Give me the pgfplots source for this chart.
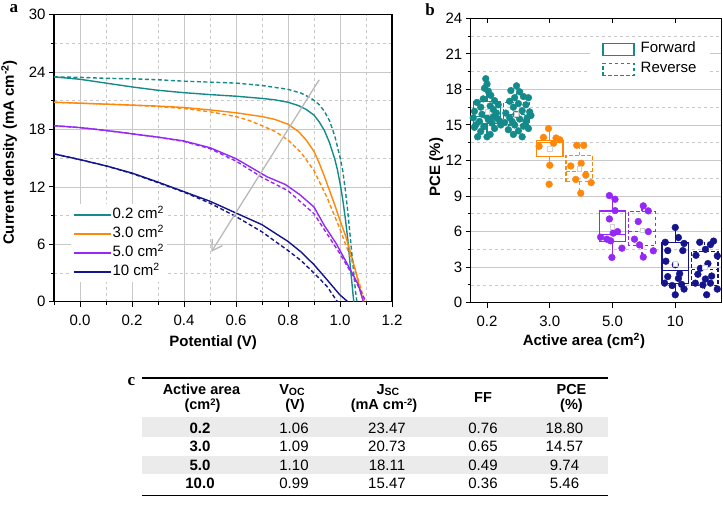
\documentclass[border=0pt]{standalone}
\usepackage{fontspec}
\setmainfont{Liberation Sans}
\newfontfamily\panelfont{Liberation Serif}
\usepackage{pgfplots}
\pgfplotsset{compat=1.18}
\usepgfplotslibrary{statistics}
\usetikzlibrary{arrows.meta}

\definecolor{tealc}{RGB}{20,138,138}
\definecolor{orangec}{RGB}{255,135,10}
\definecolor{purplec}{RGB}{150,40,245}
\definecolor{navyc}{RGB}{20,20,140}
\definecolor{gridc}{RGB}{200,200,200}
\definecolor{rowc}{RGB}{235,235,235}

\newcommand\fs{\fontsize{15bp}{18bp}\selectfont}
\newcommand\hs{\fontsize{14.5bp}{16bp}\selectfont}
\newcommand\lowsub[1]{\raisebox{-1.2bp}{\fontsize{10.5bp}{11bp}\selectfont #1}}
\newcommand\upsup[1]{\raisebox{4.5bp}{\fontsize{9.5bp}{10bp}\selectfont #1}}

\pgfplotsset{
  every axis/.append style={font=\fs},
  /pgf/number format/assume math mode=true,
}

\begin{document}
\begin{tikzpicture}

% ---------------- (a) J-V curves ----------------
\begin{axis}[
  at={(54bp,-301.7bp)}, anchor=south west,
  scale only axis, width=338bp, height=287bp,
  xmin=-0.1, xmax=1.2, ymin=0, ymax=30,
  xtick={0,0.2,0.4,0.6,0.8,1.0,1.2},
  xticklabels={0.0,0.2,0.4,0.6,0.8,1.0,1.2},
  minor xtick={-0.1,0.1,0.3,0.5,0.7,0.9,1.1},
  ytick={0,6,12,18,24,30},
  minor ytick={3,9,15,21,27},
  grid=both,
  major grid style={gridc, line width=0.8bp},
  minor grid style={gridc, dashed, line width=0.8bp},
  tick align=outside, tick pos=left,
  major tick length=5bp, minor tick length=3bp,
  tick style={black, line width=1bp},
  axis line style={line width=1.5bp},
  xticklabel shift=5bp,
  xlabel={\textbf{Potential (V)}},
  ylabel={\textbf{Current density (mA cm\textsuperscript{-2})}},
  xlabel style={at={(axis description cs:0.471,-0.157)}, anchor=base},
  ylabel style={at={(axis description cs:-0.119,0.52)}, anchor=base},
  legend cell align=left,
  legend style={at={(axis description cs:0.05,0.34)}, anchor=north west,
    fill=white, draw=none, inner sep=2bp,
    nodes={inner sep=1bp, text height=11bp, text depth=4bp},
    row sep=2bp,
    /tikz/every even column/.append style={column sep=4bp}},
  legend image code/.code={\draw[#1] (0bp,0bp) -- (37bp,0bp);},
]
% forward scans
\addplot[tealc, line width=1.4bp] coordinates {
 (-0.1,23.50) (0.0,23.25) (0.1,22.85) (0.2,22.45) (0.3,22.10) (0.4,21.85)
 (0.5,21.65) (0.6,21.48) (0.7,21.25) (0.75,21.10) (0.8,20.85) (0.84,20.50)
 (0.87,20.10) (0.9,19.50) (0.92,18.80) (0.94,17.90) (0.96,16.60) (0.98,14.90)
 (0.99,13.80) (1.0,12.40) (1.01,10.80) (1.02,8.80) (1.03,6.50) (1.04,3.60)
 (1.05,0.80) (1.053,0)};
\addlegendentry{0.2 cm\textsuperscript{2}}
\addplot[orangec, line width=1.4bp] coordinates {
 (-0.1,20.85) (0.0,20.75) (0.1,20.65) (0.2,20.55) (0.3,20.45) (0.4,20.30)
 (0.5,20.05) (0.6,19.75) (0.7,19.35) (0.75,19.05) (0.8,18.55) (0.84,17.80)
 (0.87,16.90) (0.9,15.70) (0.92,14.50) (0.94,13.10) (0.96,11.60) (0.98,10.10)
 (1.0,8.50) (1.02,7.00) (1.04,5.20) (1.06,3.20) (1.08,1.00) (1.09,0)};
\addlegendentry{3.0 cm\textsuperscript{2}}
\addplot[purplec, line width=1.4bp] coordinates {
 (-0.1,18.40) (0.0,18.20) (0.1,17.90) (0.2,17.55) (0.3,17.20) (0.4,16.80)
 (0.5,16.10) (0.6,14.95) (0.66,14.00) (0.72,13.05) (0.79,12.25) (0.845,11.20)
 (0.9,9.90) (0.94,7.95) (0.985,6.10) (1.026,4.05) (1.07,1.80) (1.09,0)};
\addlegendentry{5.0 cm\textsuperscript{2}}
\addplot[navyc, line width=1.4bp] coordinates {
 (-0.1,15.45) (0.0,14.85) (0.1,14.20) (0.2,13.45) (0.3,12.50) (0.4,11.50)
 (0.5,10.50) (0.6,9.27) (0.7,8.05) (0.8,6.30) (0.85,5.20) (0.9,3.87)
 (0.95,2.30) (1.0,0.70) (1.03,0)};
\addlegendentry{10 cm\textsuperscript{2}}
% reverse scans
\addplot[tealc, line width=1.4bp, dash pattern=on 4bp off 2.5bp, forget plot] coordinates {
 (-0.1,23.50) (0.0,23.45) (0.1,23.35) (0.2,23.30) (0.3,23.20) (0.4,23.05)
 (0.5,22.95) (0.6,22.85) (0.7,22.60) (0.8,22.20) (0.85,21.80) (0.88,21.40)
 (0.9,21.05) (0.92,20.60) (0.94,19.90) (0.96,18.90) (0.98,17.30) (1.0,15.10)
 (1.01,13.80) (1.02,11.80) (1.03,9.40) (1.04,6.60) (1.05,3.80) (1.06,1.00) (1.065,0)};
\addplot[orangec, line width=1.4bp, dash pattern=on 4bp off 2.5bp, forget plot] coordinates {
 (-0.1,20.85) (0.0,20.75) (0.2,20.55) (0.3,20.40) (0.4,20.20) (0.5,19.85)
 (0.6,19.35) (0.65,18.95) (0.7,18.40) (0.75,17.80) (0.8,16.90) (0.85,15.60)
 (0.9,13.70) (0.95,10.90) (1.0,7.60) (1.02,6.10) (1.04,4.70) (1.06,3.20)
 (1.08,1.40) (1.095,0)};
\addplot[purplec, line width=1.4bp, dash pattern=on 4bp off 2.5bp, forget plot] coordinates {
 (-0.1,18.40) (0.0,18.20) (0.1,17.90) (0.2,17.55) (0.3,17.20) (0.4,16.75)
 (0.5,16.00) (0.6,14.70) (0.7,13.00) (0.8,11.60) (0.9,9.20) (0.95,7.10)
 (1.0,5.00) (1.05,2.70) (1.1,0)};
\addplot[navyc, line width=1.4bp, dash pattern=on 4bp off 2.5bp, forget plot] coordinates {
 (-0.1,15.45) (0.0,14.85) (0.1,14.20) (0.2,13.40) (0.3,12.45) (0.4,11.45)
 (0.5,10.30) (0.6,8.90) (0.7,7.30) (0.8,5.35) (0.85,4.30) (0.9,3.00)
 (0.95,1.60) (0.99,0)};
% trend arrow with increasing area
\draw[gray!55, line width=1.3bp, -{Straight Barb[length=10bp, width=12bp]}]
  (axis cs:0.92,23.2) -- (axis cs:0.505,5.2);
\end{axis}

% ---------------- (b) PCE statistics ----------------
\begin{axis}[
  at={(470.7bp,-302.7bp)}, anchor=south west,
  scale only axis, width=251bp, height=284.4bp,
  xmin=-0.26, xmax=3.74, ymin=0, ymax=24,
  xtick={0,1,2,3}, xticklabels={0.2,3.0,5.0,10},
  ytick={0,3,6,9,12,15,18,21,24},
  minor ytick={1.5,4.5,7.5,10.5,13.5,16.5,19.5,22.5},
  ymajorgrids, yminorgrids,
  major grid style={gridc, line width=0.8bp},
  minor grid style={gridc, dashed, line width=0.8bp},
  tick align=outside, tick pos=left,
  major tick length=5bp, minor tick length=3bp,
  tick style={black, line width=1bp},
  axis line style={line width=1.5bp},
  xticklabel shift=5bp,
  xlabel={\textbf{Active area (cm\textsuperscript{2})}},
  ylabel={\textbf{PCE (\%)}},
  xlabel style={at={(axis description cs:0.451,-0.151)}, anchor=base},
  ylabel style={at={(axis description cs:-0.122,0.477)}, anchor=base},
  legend cell align=left,
  legend style={at={(axis description cs:0.476,0.928)}, anchor=north west,
    fill=white, draw=none, inner xsep=12bp, inner ysep=2bp,
    nodes={inner sep=1bp, text height=11bp, text depth=4bp},
    row sep=3bp,
    /tikz/every odd column/.append style={column sep=5bp}},
  boxplot/draw direction=y,
  boxplot/whisker extend=0,
  boxplot/box extend=0.42,
]
\addlegendimage{legend image code/.code={\draw[tealc, line width=1.3bp] (0bp,-6.2bp) rectangle (31bp,6.2bp);}}
\addlegendentry{Forward}
\addlegendimage{legend image code/.code={\draw[tealc, line width=1.3bp, dash pattern=on 3.5bp off 2.5bp] (0bp,-6.2bp) rectangle (31bp,6.2bp);}}
\addlegendentry{Reverse}

% boxes, forward (solid) and reverse (dashed)
\addplot[tealc, line width=1.3bp, forget plot, boxplot prepared={draw position=0,
  lower whisker=14.0, lower quartile=15.1, median=15.7, upper quartile=16.95, upper whisker=18.9}] coordinates {};
\addplot[tealc, line width=1.3bp, dash pattern=on 3.5bp off 2.5bp, forget plot, boxplot prepared={draw position=0.47,
  lower whisker=14.0, lower quartile=15.0, median=15.9, upper quartile=16.9, upper whisker=18.3}] coordinates {};
\addplot[orangec, line width=1.3bp, forget plot, boxplot prepared={draw position=1,
  lower whisker=11.6, lower quartile=12.35, median=13.5, upper quartile=13.7, upper whisker=14.7}] coordinates {};
\addplot[orangec, line width=1.3bp, dash pattern=on 3.5bp off 2.5bp, forget plot, boxplot prepared={draw position=1.47,
  lower whisker=9.2, lower quartile=10.2, median=11.05, upper quartile=12.45, upper whisker=13.3}] coordinates {};
\addplot[purplec, line width=1.3bp, forget plot, boxplot prepared={draw position=2,
  lower whisker=3.8, lower quartile=5.16, median=5.78, upper quartile=7.75, upper whisker=9.0}] coordinates {};
\addplot[purplec, line width=1.3bp, dash pattern=on 3.5bp off 2.5bp, forget plot, boxplot prepared={draw position=2.47,
  lower whisker=3.85, lower quartile=4.8, median=6.0, upper quartile=7.7, upper whisker=8.15}] coordinates {};
\addplot[navyc, line width=1.3bp, forget plot, boxplot prepared={draw position=3,
  lower whisker=0.67, lower quartile=1.65, median=2.7, upper quartile=5.08, upper whisker=6.35}] coordinates {};
\addplot[navyc, line width=1.3bp, dash pattern=on 3.5bp off 2.5bp, forget plot, boxplot prepared={draw position=3.47,
  lower whisker=0.67, lower quartile=1.45, median=2.8, upper quartile=4.35, upper whisker=5.2}] coordinates {};

% individual devices
\addplot[only marks, mark=*, mark size=3.4bp, tealc, forget plot] coordinates {
 (-0.02,18.9) (0.0,18.45) (-0.04,18.1) (0.02,17.85) (0.06,17.5) (-0.06,17.2)
 (0.12,17.05) (0.18,16.7) (-0.16,16.9) (-0.1,16.5) (0.05,16.6) (0.15,16.0)
 (-0.2,16.15) (-0.08,15.9) (0.1,15.7) (0.2,15.35) (-0.22,15.6) (-0.12,15.3)
 (0.02,15.45) (0.08,15.15) (-0.18,15.0) (0.22,15.0) (-0.05,14.85) (0.12,14.7)
 (-0.1,14.45) (0.05,14.2) (-0.15,14.0) (0.0,14.0) (0.1,16.3) (-0.02,15.8)
 (0.16,15.55) (-0.2,14.8)};
\addplot[only marks, mark=*, mark size=3.4bp, tealc, forget plot] coordinates {
 (0.47,18.3) (0.38,17.9) (0.52,17.8) (0.58,17.4) (0.44,17.3) (0.66,17.3)
 (0.36,17.0) (0.5,16.8) (0.62,16.7) (0.42,16.5) (0.56,16.2) (0.68,16.1)
 (0.3,16.0) (0.46,15.9) (0.7,15.8) (0.36,15.6) (0.52,15.5) (0.62,15.3)
 (0.28,15.2) (0.44,15.0) (0.58,14.9) (0.34,14.6) (0.5,14.5) (0.66,14.7)
 (0.42,14.2) (0.56,14.0) (0.64,15.6) (0.4,15.3)};
\addplot[only marks, mark=*, mark size=3.4bp, orangec, forget plot] coordinates {
 (0.98,14.7) (0.9,13.95) (1.1,13.9) (1.16,13.75) (0.83,13.2) (1.06,13.45)
 (1.0,11.6) (0.99,10.0)};
\addplot[only marks, mark=*, mark size=3.4bp, orangec, forget plot] coordinates {
 (1.43,13.28) (1.54,13.28) (1.335,11.54) (1.5,11.76) (1.574,10.78) (1.414,10.4)
 (1.66,10.13) (1.494,9.24)};
\addplot[only marks, mark=*, mark size=3.4bp, purplec, forget plot] coordinates {
 (1.95,9.04) (2.04,8.73) (2.04,7.77) (1.95,7.07) (2.08,6.0) (2.01,5.87)
 (1.81,5.53) (1.91,5.36) (1.97,5.22) (2.15,4.6) (1.99,3.82)};
\addplot[only marks, mark=*, mark size=3.4bp, purplec, forget plot] coordinates {
 (2.49,8.17) (2.57,7.75) (2.41,6.85) (2.57,6.0) (2.35,5.36) (2.43,4.88)
 (2.65,4.38) (2.49,3.85)};
\addplot[only marks, mark=*, mark size=3.4bp, navyc, forget plot] coordinates {
 (3.0,6.35) (3.05,5.5) (2.84,5.1) (3.14,5.0) (2.88,4.4) (3.12,4.4)
 (2.85,3.5) (3.0,3.2) (3.07,2.45) (2.88,2.2) (3.05,2.05) (2.83,1.65)
 (2.95,1.45) (3.1,1.55) (3.14,1.15) (3.0,0.67)};
\addplot[only marks, mark=*, mark size=3.4bp, navyc, forget plot] coordinates {
 (3.39,5.1) (3.61,5.2) (3.56,4.9) (3.48,4.5) (3.33,4.0) (3.67,3.95)
 (3.4,2.9) (3.52,3.3) (3.58,2.25) (3.48,2.0) (3.32,1.65) (3.56,1.65)
 (3.44,1.5) (3.67,1.15) (3.5,0.67) (3.36,2.4)};

% means
\addplot[only marks, mark=square*, mark size=2.2bp, forget plot,
  mark options={fill=white, draw=gray!35, line width=0.5bp}] coordinates {
 (0,16.1) (0.47,15.9) (1,13.0) (1.47,11.3) (2,6.4) (2.47,6.1) (3,3.3) (3.47,3.0)};

% inward ticks along the top edge
\pgfplotsinvokeforeach{0,1,2,3}{
  \draw[black, line width=1bp] (axis cs:#1,24) -- ++(0bp,-5bp);
}
\end{axis}

% ---------------- panel letters ----------------
\node[anchor=base, font=\panelfont\bfseries\fontsize{17bp}{20bp}\selectfont, inner sep=0pt] at (13.8bp,-12.5bp) {a};
\node[anchor=base, font=\panelfont\bfseries\fontsize{17bp}{20bp}\selectfont, inner sep=0pt] at (430bp,-15bp) {b};
\node[anchor=base, font=\panelfont\bfseries\fontsize{17bp}{20bp}\selectfont, inner sep=0pt] at (131.5bp,-385.5bp) {c};

% ---------------- (c) summary table ----------------
\fill[rowc] (142bp,-416.7bp) rectangle (608bp,-437.3bp);
\fill[rowc] (142bp,-455.6bp) rectangle (608bp,-474.2bp);
\draw[line width=1.6bp] (142bp,-378bp) -- (608bp,-378bp);
\draw[line width=1.8bp] (142bp,-495.5bp) -- (608bp,-495.5bp);

\begin{scope}[every node/.style={anchor=base, inner sep=0pt, font=\hs}]
\node at (201.5bp,-394.5bp) {\textbf{Active area}};
\node at (202.5bp,-409.5bp) {\textbf{(cm\upsup{2})}};
\node at (292bp,-394.5bp) {\textbf{V\lowsub{OC}}};
\node at (295bp,-409.5bp) {\textbf{(V)}};
\node at (388bp,-394.5bp) {\textbf{J\lowsub{SC}}};
\node at (384bp,-409.5bp) {\textbf{(mA cm\upsup{-2})}};
\node at (483bp,-402bp) {\textbf{FF}};
\node at (571.5bp,-394.5bp) {\textbf{PCE}};
\node at (571.5bp,-409.5bp) {\textbf{(\%)}};
\end{scope}

\begin{scope}[every node/.style={anchor=base, inner sep=0pt, font=\fs}]
\node at (200bp,-433.3bp) {\textbf{0.2}};
\node at (294bp,-433.3bp) {1.06};
\node at (387bp,-433.3bp) {23.47};
\node at (483bp,-433.3bp) {0.76};
\node at (564.5bp,-433.3bp) {18.80};

\node at (200bp,-451.7bp) {\textbf{3.0}};
\node at (294bp,-451.7bp) {1.09};
\node at (387bp,-451.7bp) {20.73};
\node at (483bp,-451.7bp) {0.65};
\node at (564.5bp,-451.7bp) {14.57};

\node at (200bp,-470bp) {\textbf{5.0}};
\node at (294bp,-470bp) {1.10};
\node at (387bp,-470bp) {18.11};
\node at (483bp,-470bp) {0.49};
\node at (564.5bp,-470bp) {9.74};

\node at (200bp,-488.3bp) {\textbf{10.0}};
\node at (294bp,-488.3bp) {0.99};
\node at (387bp,-488.3bp) {15.47};
\node at (483bp,-488.3bp) {0.36};
\node at (564.5bp,-488.3bp) {5.46};
\end{scope}

\pgfresetboundingbox
\useasboundingbox (0bp,0bp) rectangle (723bp,-507bp);
\end{tikzpicture}
\end{document}
